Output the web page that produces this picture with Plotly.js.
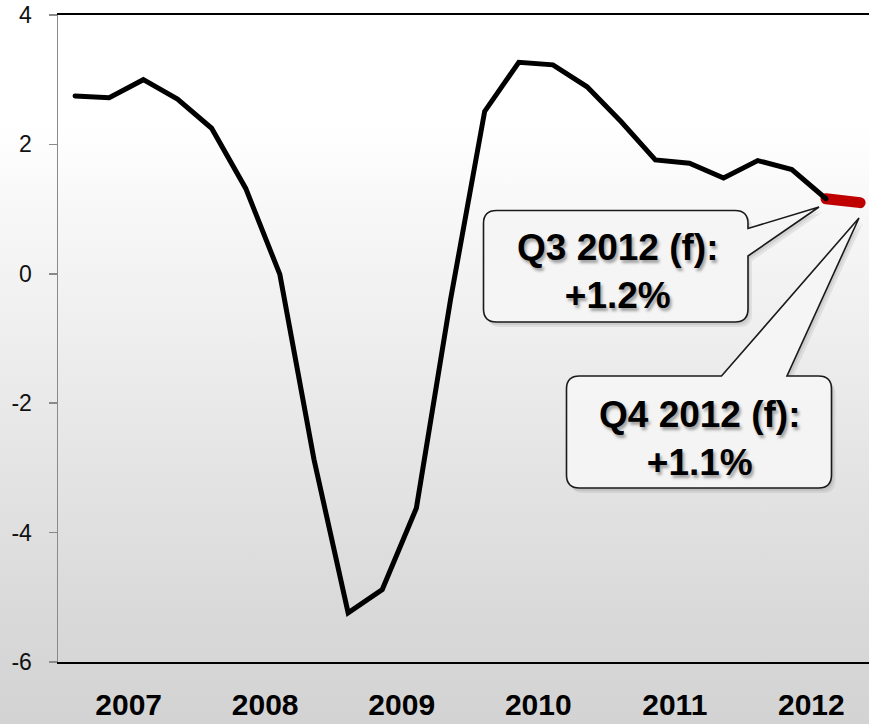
<!DOCTYPE html>
<html>
<head>
<meta charset="utf-8">
<script src="https://cdn.plot.ly/plotly-3.0.1.min.js"></script>
<style>
  html, body { margin: 0; padding: 0; overflow: hidden; }
  body {
    width: 869px; height: 724px;
    background: linear-gradient(to bottom, #ffffff 0%, #ffffff 17%, #f7f7f7 30%, #efefef 45%, #e4e4e4 65%, #d9d9d9 85%, #d3d3d3 100%);
  }
  #chart { width: 869px; height: 724px; }
  .scatterlayer .js-line { stroke-linecap: round; }
</style>
</head>
<body>
<div id="chart"></div>
<script>
// ---- data (GDP growth, %, quarterly) ----
const quarters = [
  "Q1 2007","Q2 2007","Q3 2007","Q4 2007",
  "Q1 2008","Q2 2008","Q3 2008","Q4 2008",
  "Q1 2009","Q2 2009","Q3 2009","Q4 2009",
  "Q1 2010","Q2 2010","Q3 2010","Q4 2010",
  "Q1 2011","Q2 2011","Q3 2011","Q4 2011",
  "Q1 2012","Q2 2012","Q3 2012","Q4 2012"
];
const actualValues = [2.75, 2.72, 3.00, 2.70, 2.25, 1.32, -0.01, -2.87,
                      -5.24, -4.88, -3.62, -0.40, 2.51, 3.27, 3.23, 2.89,
                      2.35, 1.76, 1.71, 1.48, 1.75, 1.61, 1.16];
const forecastQuarters = ["Q3 2012", "Q4 2012"];
const forecastValues = [1.16, 1.10];
const years = ["2007", "2008", "2009", "2010", "2011", "2012"];
const yTicks = [-6, -4, -2, 0, 2, 4];
const callout1Text = "Q3 2012 (f):<br>+1.2%";
const callout2Text = "Q4 2012 (f):<br>+1.1%";

// ---- geometry helpers (pixel -> paper) ----
const W = 869, H = 724, ML = 58, MT = 15, MB = 62, MR = 0;
const PW = W - ML - MR, PH = H - MT - MB;
const px = x => (x - ML) / PW;
const py = y => (H - MB - y) / PH;
const P = (x, y) => px(x).toFixed(5) + "," + py(y).toFixed(5);

function calloutPath(x0, y0, x1, y1, r, pointer, dx, dy) {
  dx = dx || 0; dy = dy || 0;
  x0 += dx; x1 += dx; y0 += dy; y1 += dy;
  const pt = pointer.map(p => [p[0] + dx, p[1] + dy]);
  let d = "M" + P(x0 + r, y0);
  if (pointer.side === "top") {
    d += " L" + P(pt[0][0], y0) + " L" + P(pt[1][0], pt[1][1]) + " L" + P(pt[2][0], y0);
  }
  d += " L" + P(x1 - r, y0) + " Q" + P(x1, y0) + " " + P(x1, y0 + r);
  if (pointer.side === "right") {
    d += " L" + P(x1, pt[0][1]) + " L" + P(pt[1][0], pt[1][1]) + " L" + P(x1, pt[2][1]);
  }
  d += " L" + P(x1, y1 - r) + " Q" + P(x1, y1) + " " + P(x1 - r, y1);
  d += " L" + P(x0 + r, y1) + " Q" + P(x0, y1) + " " + P(x0, y1 - r);
  d += " L" + P(x0, y0 + r) + " Q" + P(x0, y0) + " " + P(x0 + r, y0) + " Z";
  return d;
}

const ptr1 = [[748, 228.5], [819, 207], [748, 256]]; ptr1.side = "right";
const ptr2 = [[721.5, 376], [859, 218], [787, 376]]; ptr2.side = "top";
const box1 = [483.5, 210.5, 748, 322];
const box2 = [566.5, 376, 831.5, 488];

const shapes = [];
[[box1, ptr1], [box2, ptr2]].forEach(([b, p]) => {
  shapes.push({type: "path", xref: "paper", yref: "paper", layer: "above",
    path: calloutPath(b[0], b[1], b[2], b[3], 13, p, 4, 5),
    fillcolor: "rgba(0,0,0,0.07)", line: {width: 0}});
  shapes.push({type: "path", xref: "paper", yref: "paper", layer: "above",
    path: calloutPath(b[0], b[1], b[2], b[3], 13, p, 2, 3),
    fillcolor: "rgba(0,0,0,0.08)", line: {width: 0}});
  shapes.push({type: "path", xref: "paper", yref: "paper", layer: "above",
    path: calloutPath(b[0], b[1], b[2], b[3], 13, p, 0, 0),
    fillcolor: "rgba(246,246,246,0.97)", line: {color: "#1a1a1a", width: 1.6}});
});

const xIdx = quarters.map((q, i) => i);
const actualX = actualValues.map((v, i) => xIdx[i]);
const forecastX = forecastQuarters.map(q => quarters.indexOf(q));

const traces = [
  {x: forecastX, y: forecastValues, type: "scatter", mode: "lines",
   line: {color: "#c00000", width: 11}, hoverinfo: "skip", showlegend: false},
  {x: actualX, y: actualValues, type: "scatter", mode: "lines",
   line: {color: "#000000", width: 5}, text: quarters.slice(0, actualValues.length),
   showlegend: false}
];

const tickFont = {family: "Arial, 'Liberation Sans', sans-serif", size: 23, color: "#111"};
const layout = {
  width: W, height: H,
  margin: {l: ML, r: MR, t: MT, b: MB, pad: 0},
  paper_bgcolor: "rgba(0,0,0,0)", plot_bgcolor: "rgba(0,0,0,0)",
  showlegend: false,
  xaxis: {
    range: [-0.5, 23.26], showgrid: false, zeroline: false,
    tickvals: years.map((y, i) => i * 4 + 1.57), ticktext: years,
    ticks: "", showline: true, linecolor: "#000", linewidth: 2, mirror: true,
    tickfont: {family: "Arial, 'Liberation Sans', sans-serif", size: 30, color: "#000", weight: 700},
    ticklabelstandoff: 15
  },
  yaxis: {
    range: [-6, 4], tickvals: yTicks, ticktext: yTicks.map(String),
    showgrid: false, zeroline: false,
    showline: true, linecolor: "#8a8a8a", linewidth: 1.5,
    ticks: "outside", ticklen: 8, tickcolor: "#8a8a8a", tickwidth: 1.5,
    tickfont: tickFont, ticklabelstandoff: 12
  },
  shapes: shapes,
  annotations: [
    {xref: "paper", yref: "paper", x: px(618), y: py(271), text: callout1Text,
     showarrow: false, xanchor: "center", yanchor: "middle", align: "center",
     font: {family: "Arial, 'Liberation Sans', sans-serif", size: 37, color: "#000", weight: 700,
            shadow: "2px 3px 3px rgba(0,0,0,0.35)"}},
    {xref: "paper", yref: "paper", x: px(700), y: py(438), text: callout2Text,
     showarrow: false, xanchor: "center", yanchor: "middle", align: "center",
     font: {family: "Arial, 'Liberation Sans', sans-serif", size: 37, color: "#000", weight: 700,
            shadow: "2px 3px 3px rgba(0,0,0,0.35)"}}
  ]
};

Plotly.newPlot("chart", traces, layout, {displayModeBar: false, staticPlot: true});
</script>
</body>
</html>
